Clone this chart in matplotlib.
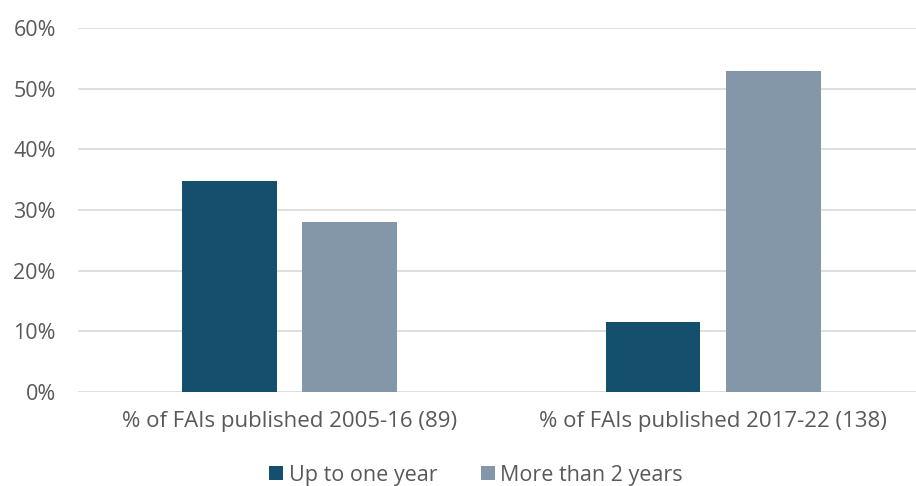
import matplotlib.pyplot as plt
import numpy as np

categories = ['% of FAIs published 2005-16 (89)', '% of FAIs published 2017-22 (138)']
up_to_one_year = [34.8, 11.6]
more_than_2_years = [28.1, 52.9]
series_names = ['Up to one year', 'More than 2 years']
colors = ['#14506E', '#8497A9']

plt.rcParams['font.family'] = ['Open Sans', 'DejaVu Sans']

fig = plt.figure(figsize=(9.16, 4.86), dpi=100)
ax = fig.add_axes([78 / 916, 94 / 486, (916 - 78) / 916, 364 / 486])

x = np.arange(len(categories))
w = 0.224
off = 0.142
ax.bar(x - off, up_to_one_year, w, color=colors[0], label=series_names[0], zorder=3)
ax.bar(x + off, more_than_2_years, w, color=colors[1], label=series_names[1], zorder=3)

ax.set_xlim(-0.5, 1.479)
ax.set_ylim(0, 60)
ax.set_yticks(np.arange(0, 61, 10))
ax.set_yticklabels([f'{v}%' for v in range(0, 61, 10)])
ax.set_xticks(x)
ax.set_xticklabels(categories)
ax.yaxis.grid(True, color='#D9D9D9', linewidth=1.2, zorder=0)
for s in ax.spines.values():
    s.set_visible(False)
ax.tick_params(axis='both', length=0, labelsize=15.5, colors='#595959')
ax.tick_params(axis='x', labelsize=16, pad=14)
ax.tick_params(axis='y', pad=16)

leg = fig.legend(loc='center', bbox_to_anchor=(476 / 916, 1 - 475 / 486), ncol=2,
                 frameon=False, fontsize=15.5, handlelength=0.65, handleheight=0.65,
                 handletextpad=0.25, columnspacing=2.0)
for t in leg.get_texts():
    t.set_color('#595959')

fig.savefig('out.png', dpi=100)
